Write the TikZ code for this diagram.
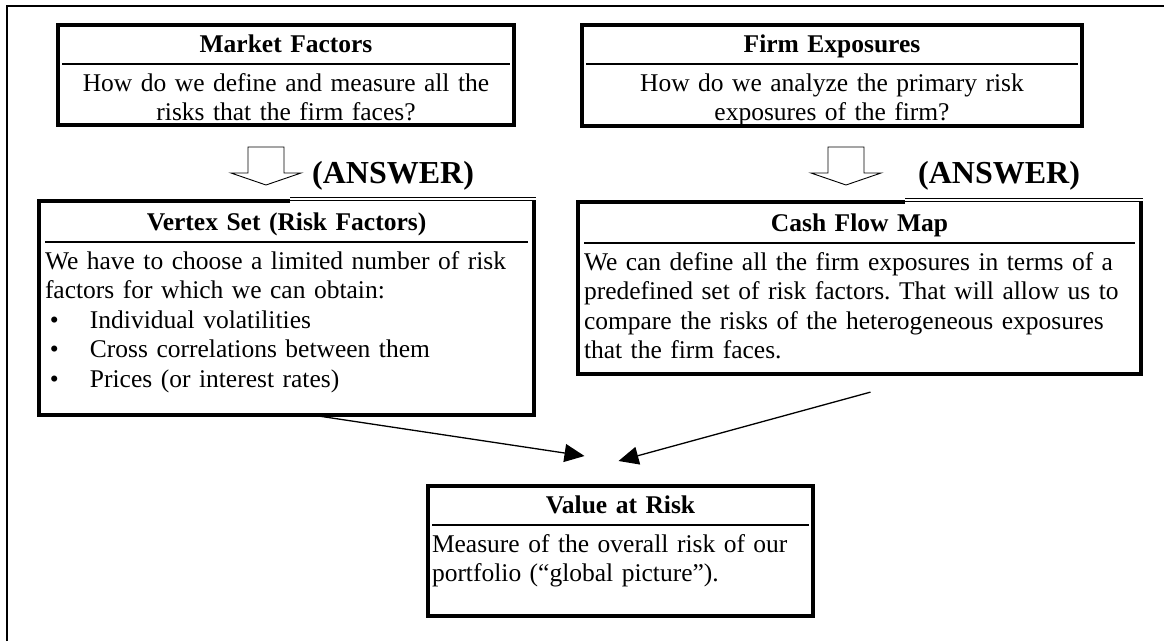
\documentclass[tikz,border=0pt]{standalone}
\usepackage{fontspec}
\setmainfont{Liberation Serif}
\usetikzlibrary{positioning,arrows.meta}

\newcommand{\boxhead}[1]{{\centering\bfseries\rule[-6pt]{0pt}{33pt}#1\par}\vspace{5pt}\hrule height 1.6pt\rule{0pt}{26.5pt}}
\newcommand{\bitem}[1]{\hspace*{5pt}\makebox[40pt][l]{\textbullet}#1}
\newcommand{\boxend}[1]{\rule[-#1]{0pt}{0pt}}

\begin{document}
\frenchspacing
\begin{tikzpicture}
    [x=1pt,y=-1pt,
     box/.style={draw, line width=4pt, anchor=north west, inner xsep=4pt, inner ysep=0pt,
                 font=\fontsize{25.5}{29.5}\selectfont},
     openbox/.style={box, draw=none},
     answer/.style={anchor=base west, inner sep=0pt, font=\fontsize{32}{36}\selectfont\bfseries},
     hollow/.style={draw, line width=0.9pt, fill=white},
     link/.style={line width=1.3pt, -{Triangle[length=20pt,width=18pt]}}]
    \useasboundingbox (0,0) rectangle (1164,641);
    \draw[line width=2.5pt] (7,641) -- (7,6) -- (1164,6);

    % questions
    \node[box, align=center, text width=448pt] (mf) at (56,23)
        {\boxhead{Market Factors}How do we define and measure all the\\risks that the firm faces?\boxend{4.5pt}};
    \node[box, align=center, text width=492pt] (fe) at (580,23)
        {\boxhead{Firm Exposures}How do we analyze the primary risk\\exposures of the firm?\boxend{4.5pt}};

    % answers
    \foreach \ax in {266,846}
        \draw[hollow] (\ax-18,147) -- (\ax+18,147) -- (\ax+18,173) -- (\ax+35,173)
            -- (\ax,185) -- (\ax-35,173) -- (\ax-18,173) -- cycle;
    \node[answer] (ans1) at (312,183) {(ANSWER)};
    \node[answer] (ans2) at (918,183) {(ANSWER)};

    \node[openbox, align=left, text width=483pt] (vs) at (39,201)
        {\boxhead{Vertex Set (Risk Factors)}We have to choose a limited number of risk\\factors for which we can obtain:\\
         \bitem{Individual volatilities}\\\bitem{Cross correlations between them}\\\bitem{Prices (or interest rates)}\boxend{26pt}};
    \node[openbox, align=left, text width=551pt] (cf) at (578,202)
        {\boxhead{Cash Flow Map}We can define all the firm exposures in terms of a\\predefined set of risk factors. That will allow us to\\
         compare the risks of the heterogeneous exposures\\that the firm faces.\boxend{13.5pt}};

    % frames with the answer rule on top
    \draw[line width=4pt] (vs.north -| 290,0) -- (vs.north west) -- (vs.south west) -- (vs.south east) -- (vs.north east);
    \draw[line width=4pt] (cf.north -| 905,0) -- (cf.north west) -- (cf.south west) -- (cf.south east) -- (cf.north east);
    \draw[double, double distance=1.6pt, line width=0.8pt] ([yshift=2pt]vs.north -| 290,0) -- ([yshift=2pt,xshift=2pt]vs.north east);
    \draw[double, double distance=1.6pt, line width=0.8pt] ([yshift=2pt]cf.north -| 905,0) -- ([yshift=2pt,xshift=2pt]cf.north east);

    \node[box, align=left, text width=377pt] (var) at (426,484)
        {\boxhead{Value at Risk}Measure of the overall risk of our\\portfolio (``global picture'').\boxend{34.5pt}};

    \coordinate (vsout) at ([xshift=26pt]vs.south);
    \coordinate (cfout) at ([xshift=11pt,yshift=-18pt]cf.south);
    \coordinate (varl) at ([xshift=-36pt,yshift=28pt]var.north);
    \coordinate (varr) at ([xshift=-2pt,yshift=23pt]var.north);
    \draw[link] (vsout) -- (varl);
    \draw[link] (cfout) -- (varr);
\end{tikzpicture}
\end{document}
